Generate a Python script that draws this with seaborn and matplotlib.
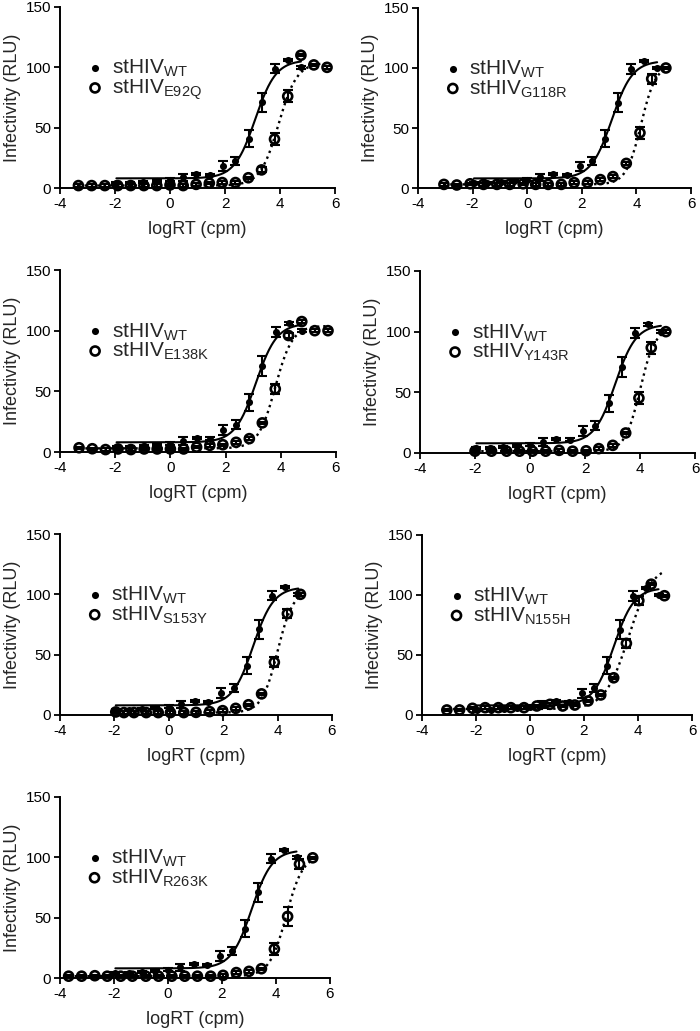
import numpy as np
import matplotlib
matplotlib.use('Agg')
import matplotlib.pyplot as plt
import seaborn as sns

# wild type, same in every panel
wt_x = [-1.95, -1.46, -0.97, -0.49, 0.0, 0.46, 0.95, 1.44, 1.92, 2.38, 2.86, 3.33, 3.81, 4.28, 4.76]
wt_y = [4, 4, 5, 6, 7, 9, 11.5, 11, 18, 22.5, 41, 71, 99, 106, 100]
wt_err = [1, 1, 1, 1, 1, 3, 1, 1, 4, 3.5, 7, 8, 4, 1, 1]
wt_fit = [8, 106, 3.1, 1.15]  # bottom, top, logEC50, hill

mutants = ['E92Q', 'G118R', 'E138K', 'Y143R', 'S153Y', 'N155H', 'R263K']

e92q_x = [-3.33, -2.85, -2.37, -1.9, -1.43, -0.95, -0.48, 0.0, 0.48, 0.95, 1.43, 1.9, 2.38, 2.85, 3.33, 3.8, 4.28, 4.76, 5.23, 5.71]
e92q_y = [2, 2, 2, 2, 2, 2, 2, 2.5, 2, 3, 4, 4.5, 4.5, 8.5, 15, 40.5, 76, 110, 102, 100]
e92q_err = [1, 1, 1, 1, 1, 1, 1, 1, 1, 1, 1, 1, 1, 1, 2, 5, 5, 1, 1, 1]
e92q_fit = [2, 104, 3.95, 1.3]

g118r_x = [-3.05, -2.58, -2.09, -1.6, -1.11, -0.64, -0.15, 0.31, 0.77, 1.25, 1.72, 2.21, 2.68, 3.14, 3.63, 4.13, 4.56, 5.08]
g118r_y = [3, 2.5, 3.5, 3, 3, 3, 3.5, 3, 3, 3, 4.5, 4.5, 7, 9.5, 20.5, 46, 91, 100]
g118r_err = [1, 1, 1, 1, 1, 1, 1, 1, 1, 1, 1, 1, 1, 1, 1, 5, 4, 1]
g118r_fit = [3, 103, 4.17, 1.6]

e138k_x = [-3.31, -2.83, -2.35, -1.9, -1.43, -0.95, -0.48, 0.0, 0.48, 0.95, 1.43, 1.9, 2.38, 2.86, 3.33, 3.8, 4.28, 4.76, 5.23, 5.71]
e138k_y = [3.5, 2.7, 2, 2.5, 2, 2.5, 2.5, 2.5, 2.5, 4, 5.5, 6, 8, 11, 24, 52, 96, 107.5, 100, 100]
e138k_err = [1, 1, 1, 1, 1, 1, 1, 1, 1, 1, 1, 1, 1, 1, 1, 4, 2, 1, 1, 1]
e138k_fit = [3, 104, 3.8, 1.4]

y143r_x = [-2.0, -1.4, -0.85, -0.38, 0.09, 0.57, 1.06, 1.55, 2.04, 2.5, 3.01, 3.48, 3.96, 4.41, 4.94]
y143r_y = [1.5, 1.5, 1.5, 1.5, 1.5, 1.5, 2.2, 1.5, 1.8, 3.6, 6.3, 16.5, 45.3, 86.8, 100]
y143r_err = [1, 1, 1, 1, 1, 1, 1, 1, 1, 1, 1, 1, 5, 5, 1]
y143r_fit = [1.5, 103, 4.0, 1.6]

s153y_x = [-1.95, -1.65, -1.28, -0.83, -0.39, 0.06, 0.55, 1.0, 1.5, 1.98, 2.46, 2.93, 3.41, 3.88, 4.36, 4.84]
s153y_y = [2.5, 2, 2, 2, 2, 2, 2, 2.2, 2.8, 3.6, 5.5, 8.5, 17.5, 43.7, 84, 100]
s153y_err = [1, 1, 1, 1, 1, 1, 1, 1, 1, 1, 1, 1, 1, 4, 4, 1]
s153y_fit = [2, 104, 4.0, 1.5]

n155h_x = [-3.08, -2.61, -2.13, -1.66, -1.17, -0.71, -0.22, 0.25, 0.74, 1.21, 1.66, 2.15, 2.62, 3.1, 3.57, 4.03, 4.49, 4.98]
n155h_y = [4.2, 4.2, 5.6, 6.1, 6.1, 6.1, 6.1, 7.5, 8.9, 7.5, 8.3, 11.7, 16.7, 31, 59.7, 95.3, 109, 99.4]
n155h_err = [1, 1, 1, 1, 1, 1, 1, 1, 1, 1, 1, 1, 1, 1, 4, 4, 1, 1]
n155h_fit = [5, 125, 3.65, 1.0]

r263k_x = [-3.68, -3.2, -2.71, -2.25, -1.75, -1.32, -0.82, -0.35, 0.14, 0.62, 1.09, 1.58, 2.04, 2.53, 3.0, 3.46, 3.94, 4.43, 4.87, 5.36]
r263k_y = [1.5, 1.5, 1.9, 1.5, 1.5, 1.5, 1.5, 1.5, 1.5, 1.5, 1.5, 1.5, 2.2, 4.5, 5.5, 7.7, 24, 51, 94.4, 99.6]
r263k_err = [1, 1, 1, 1, 1, 1, 1, 1, 1, 1, 1, 1, 1, 1, 1, 1, 5, 8, 4, 1]
r263k_fit = [1.5, 102, 4.38, 1.4]

panels = [
    (e92q_x, e92q_y, e92q_err, e92q_fit),
    (g118r_x, g118r_y, g118r_err, g118r_fit),
    (e138k_x, e138k_y, e138k_err, e138k_fit),
    (y143r_x, y143r_y, y143r_err, y143r_fit),
    (s153y_x, s153y_y, s153y_err, s153y_fit),
    (n155h_x, n155h_y, n155h_err, n155h_fit),
    (r263k_x, r263k_y, r263k_err, r263k_fit),
]

# axes boxes in pixels: left, top, right, bottom
boxes = [(60, 7, 335, 188), (418, 8, 691, 188),
         (60, 270, 336, 452), (420, 271, 695, 453),
         (60, 534, 332, 715), (422, 535, 692, 715),
         (60, 797, 330, 978)]


def logistic(x, bottom, top, logec50, hill):
    return bottom + (top - bottom) / (1 + 10 ** ((logec50 - x) * hill))


sns.set_style('ticks')
plt.rcParams['font.family'] = ['Liberation Sans', 'DejaVu Sans']
plt.rcParams['mathtext.fontset'] = 'custom'
plt.rcParams['mathtext.rm'] = 'Liberation Sans'
plt.rcParams['axes.unicode_minus'] = False

W, H = 700, 1031
fig = plt.figure(figsize=(W / 100, H / 100), dpi=100)

for name, (mx, my, merr, mfit), (l, t, r, b) in zip(mutants, panels, boxes):
    ax = fig.add_axes([l / W, 1 - b / H, (r - l) / W, (b - t) / H])

    # fitted curves
    xs = np.linspace(wt_x[0], wt_x[-1], 300)
    sns.lineplot(x=xs, y=logistic(xs, *wt_fit), color='black', lw=1.5, ax=ax)
    xm = np.linspace(mx[0], mx[-1], 300)
    sns.lineplot(x=xm, y=logistic(xm, *mfit), color='black', lw=1.7, ls=':', ax=ax)

    # error bars
    ax.errorbar(wt_x, wt_y, yerr=wt_err, fmt='none', ecolor='black',
                elinewidth=1.5, capsize=3.5, capthick=1.5, zorder=3, clip_on=False)
    ax.errorbar(mx, my, yerr=merr, fmt='none', ecolor='black',
                elinewidth=1.5, capsize=3.5, capthick=1.5, zorder=3, clip_on=False)

    # points
    sns.scatterplot(x=wt_x, y=wt_y, color='black', s=26, linewidth=0, ax=ax,
                    label=r'stHIV$_{\mathregular{WT}}$', zorder=5, clip_on=False)
    sns.scatterplot(x=mx, y=my, color='black', facecolor='none', edgecolor='black',
                    s=42, linewidth=1.9, ax=ax,
                    label=r'stHIV$_{\mathregular{%s}}$' % name, zorder=4, clip_on=False)

    ax.set_xlim(-4, 6)
    ax.set_ylim(0, 150)
    ax.set_xticks([-4, -2, 0, 2, 4, 6])
    ax.set_yticks([0, 50, 100, 150])
    ax.tick_params(labelsize=11, width=1.3, length=4, pad=2.5,
                   color='black', labelcolor='black')
    for side in ['left', 'bottom']:
        ax.spines[side].set_linewidth(1.4)
        ax.spines[side].set_color('black')
    sns.despine(ax=ax)
    ax.set_xlabel('logRT (cpm)', fontsize=13, labelpad=7)
    ax.set_ylabel('Infectivity (RLU)', fontsize=13, labelpad=3)

    ax.legend(loc='upper left', bbox_to_anchor=(0.097, 0.72), frameon=False,
              fontsize=15, borderpad=0, borderaxespad=0, handlelength=0.8,
              handletextpad=0.4, labelspacing=-0.1, scatterpoints=1)

fig.savefig('out.png', dpi=100)
